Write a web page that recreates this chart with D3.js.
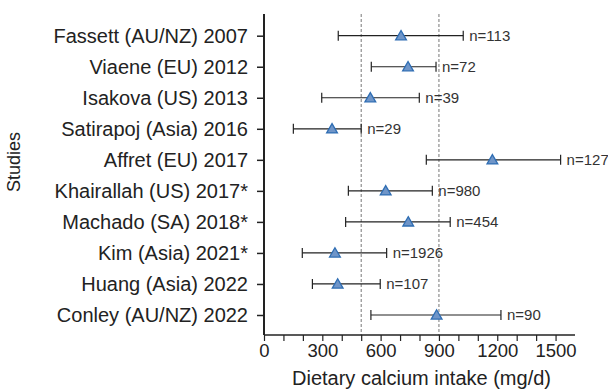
<!DOCTYPE html>
<html>
<head>
<meta charset="utf-8">
<script src="https://cdn.jsdelivr.net/npm/d3@7"></script>
<style>
  html, body { margin: 0; padding: 0; background: #fff; }
  svg { display: block; font-family: "Liberation Sans", Arial, sans-serif; }
</style>
</head>
<body>
<svg id="chart" width="608" height="391"></svg>
<script>
const studies = ["Fassett (AU/NZ) 2007", "Viaene (EU) 2012", "Isakova (US) 2013", "Satirapoj (Asia) 2016", "Affret (EU) 2017", "Khairallah (US) 2017*", "Machado (SA) 2018*", "Kim (Asia) 2021*", "Huang (Asia) 2022", "Conley (AU/NZ) 2022"];
const means = [705, 741, 547, 350, 1175, 626, 742, 365, 379, 888];
const lows = [382, 552, 297, 151, 835, 434, 420, 197, 249, 550];
const highs = [1025, 885, 799, 500, 1526, 866, 958, 631, 598, 1219];
const nLabels = ["n=113", "n=72", "n=39", "n=29", "n=127", "n=980", "n=454", "n=1926", "n=107", "n=90"];
const refLines = [500, 900];
const xTicks = [0, 300, 600, 900, 1200, 1500];
const xMinorTicks = d3.range(0, 1600, 100);
const xTitle = "Dietary calcium intake (mg/d)";
const yTitle = "Studies";

const svg = d3.select("#chart");
const mL = 264, mR = 575, mT = 14, mB = 335;

const x = d3.scaleLinear().domain([0, 1600]).range([mL, mR]);
const y = d3.scalePoint().domain(studies).range([35.7, 315]);

const data = studies.map((s, i) => ({ s, m: means[i], lo: lows[i], hi: highs[i], n: nLabels[i] }));

// reference dashed lines
svg.selectAll(".ref").data(refLines).join("line")
  .attr("class", "ref")
  .attr("x1", d => x(d)).attr("x2", d => x(d))
  .attr("y1", mT).attr("y2", mB)
  .attr("stroke", "#777").attr("stroke-width", 1).attr("stroke-dasharray", "3,2");

// error bars
const g = svg.append("g");
const rows = g.selectAll("g.row").data(data).join("g").attr("class", "row");
rows.append("line")
  .attr("x1", d => x(d.lo)).attr("x2", d => x(d.hi))
  .attr("y1", d => y(d.s)).attr("y2", d => y(d.s))
  .attr("stroke", "#222").attr("stroke-width", 1.2);
rows.append("line")
  .attr("x1", d => x(d.lo)).attr("x2", d => x(d.lo))
  .attr("y1", d => y(d.s) - 5).attr("y2", d => y(d.s) + 5)
  .attr("stroke", "#222").attr("stroke-width", 1.2);
rows.append("line")
  .attr("x1", d => x(d.hi)).attr("x2", d => x(d.hi))
  .attr("y1", d => y(d.s) - 5).attr("y2", d => y(d.s) + 5)
  .attr("stroke", "#222").attr("stroke-width", 1.2);
rows.append("path")
  .attr("d", d3.symbol().type(d3.symbolTriangle).size(50))
  .attr("transform", d => `translate(${x(d.m)},${y(d.s) + 1})`)
  .attr("fill", "#6f95c8").attr("stroke", "#2e6db3").attr("stroke-width", 1.3);
rows.append("text")
  .attr("x", d => x(d.hi) + 6).attr("y", d => y(d.s))
  .attr("dy", "0.35em")
  .attr("font-size", 15).attr("fill", "#333")
  .text(d => d.n);

// x axis
const xAxisG = svg.append("g").attr("transform", `translate(0,${mB})`);
xAxisG.call(d3.axisBottom(x).tickValues(xMinorTicks).tickSize(6).tickFormat(""));
xAxisG.select(".domain").attr("d", `M${mL},0H${mR}`).attr("stroke", "#222").attr("stroke-width", 1.5);
xAxisG.selectAll(".tick line").attr("stroke", "#222").attr("stroke-width", 1.2);
const xLabG = svg.append("g").attr("transform", `translate(0,${mB})`);
xLabG.call(d3.axisBottom(x).tickValues(xTicks).tickSize(6).tickPadding(3).tickFormat(d3.format("d")));
xLabG.select(".domain").remove();
xLabG.selectAll(".tick line").remove();
xLabG.selectAll(".tick text").attr("font-size", 18.5).attr("fill", "#222")
  .attr("font-family", "Liberation Sans, Arial, sans-serif");

// y axis
const yAxisG = svg.append("g").attr("transform", `translate(${mL},0)`);
yAxisG.call(d3.axisLeft(y).tickSize(7).tickPadding(9));
yAxisG.select(".domain").attr("d", `M0,${mT}V${mB}`).attr("stroke", "#222").attr("stroke-width", 2);
yAxisG.selectAll(".tick line").attr("stroke", "#222").attr("stroke-width", 1.5);
yAxisG.selectAll(".tick text").attr("font-size", 20).attr("fill", "#222")
  .attr("font-family", "Liberation Sans, Arial, sans-serif");

// titles
svg.append("text")
  .attr("x", (mL + mR) / 2 + 2).attr("y", 385)
  .attr("text-anchor", "middle").attr("font-size", 20).attr("fill", "#222")
  .text(xTitle);
svg.append("text")
  .attr("transform", "translate(20,162) rotate(-90)")
  .attr("text-anchor", "middle").attr("font-size", 18).attr("fill", "#222")
  .text(yTitle);
</script>
</body>
</html>
